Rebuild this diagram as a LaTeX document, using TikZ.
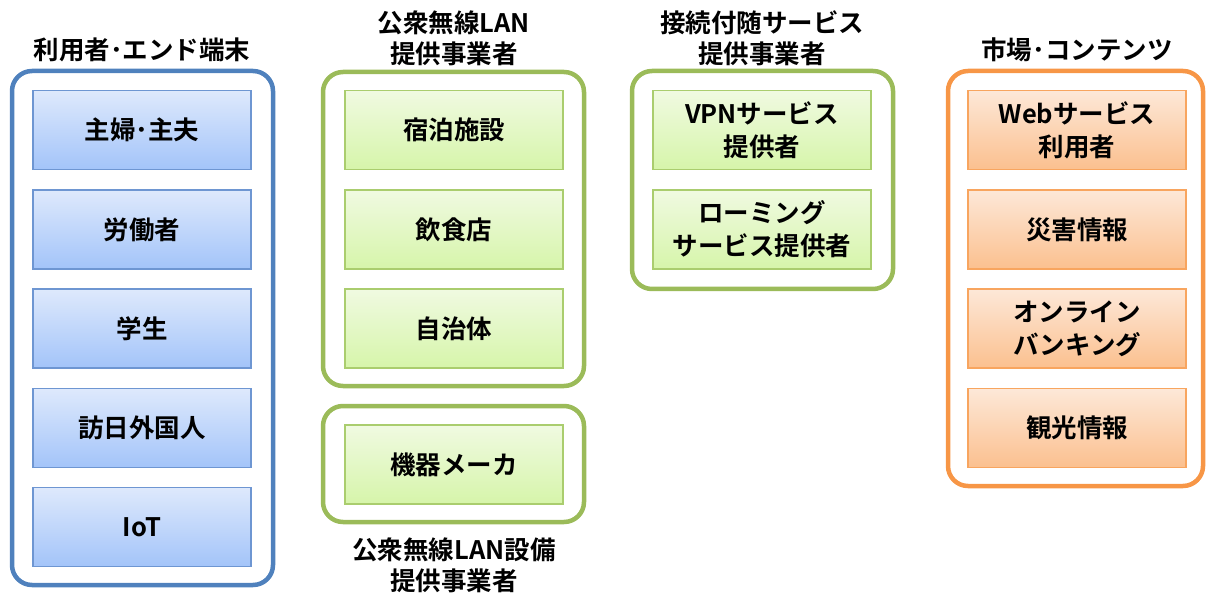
\documentclass[tikz,border=0pt]{standalone}
\usepackage{fontspec}
\newfontfamily\jp{Noto Sans CJK JP}[BoldFont={* Bold}]
\begin{document}
\begin{tikzpicture}[x=1pt,y=-1pt,
  every node/.style={font=\jp\bfseries\fontsize{25.5}{33}\selectfont, text=black, align=center, inner sep=0pt},
  outerbox/.style={line width=4.5pt, rounded corners=20pt},
  blueouter/.style={outerbox, draw={rgb,255:red,79;green,129;blue,189}},
  greenouter/.style={outerbox, draw={rgb,255:red,155;green,187;blue,89}},
  orangeouter/.style={outerbox, draw={rgb,255:red,247;green,150;blue,70}},
  innerbox/.style={line width=1.2pt, minimum width=218pt, minimum height=79pt},
  bluebox/.style={innerbox, draw={rgb,255:red,110;green,150;blue,210}, top color={rgb,255:red,222;green,233;blue,252}, bottom color={rgb,255:red,163;green,196;blue,249}},
  greenbox/.style={innerbox, draw={rgb,255:red,170;green,205;blue,110}, top color={rgb,255:red,240;green,250;blue,225}, bottom color={rgb,255:red,214;green,245;blue,170}},
  orangebox/.style={innerbox, draw={rgb,255:red,248;green,165;blue,95}, top color={rgb,255:red,253;green,232;blue,216}, bottom color={rgb,255:red,251;green,192;blue,143}},
  header/.style={font=\jp\bfseries\fontsize{25.5}{31}\selectfont}
]
\useasboundingbox (0,0) rectangle (1206,593);
% outer frames
\draw[blueouter] (12,71) rectangle (273,585);
\draw[greenouter] (323,72) rectangle (584,386);
\draw[greenouter] (323,406) rectangle (584,522);
\draw[greenouter] (632,71) rectangle (893,289);
\draw[orangeouter] (948,71) rectangle (1203,486);
% headers
\node[header] (h1) at (142,50) {利用者･エンド端末};
\node[header] (h2) at (454,38) {公衆無線LAN\\提供事業者};
\node[header] (h3) at (454,565) {公衆無線LAN設備\\提供事業者};
\node[header] (h4) at (762,38) {接続付随サービス\\提供事業者};
\node[header] (h5) at (1077,50) {市場･コンテンツ};
% column 1
\node[bluebox] (u1) at (142,130) {主婦･主夫};
\node[bluebox] (u2) at (142,229.5) {労働者};
\node[bluebox] (u3) at (142,328.5) {学生};
\node[bluebox] (u4) at (142,428) {訪日外国人};
\node[bluebox] (u5) at (142,527) {IoT};
% column 2
\node[greenbox] (p1) at (454,130) {宿泊施設};
\node[greenbox] (p2) at (454,229.5) {飲食店};
\node[greenbox] (p3) at (454,328.5) {自治体};
\node[greenbox] (e1) at (454,464.5) {機器メーカ};
% column 3
\node[greenbox] (s1) at (762,130) {VPNサービス\\提供者};
\node[greenbox] (s2) at (762,229.5) {ローミング\\サービス提供者};
% column 4
\node[orangebox] (m1) at (1077,130) {Webサービス\\利用者};
\node[orangebox] (m2) at (1077,229.5) {災害情報};
\node[orangebox] (m3) at (1077,328.5) {オンライン\\バンキング};
\node[orangebox] (m4) at (1077,428) {観光情報};
\end{tikzpicture}
\end{document}
